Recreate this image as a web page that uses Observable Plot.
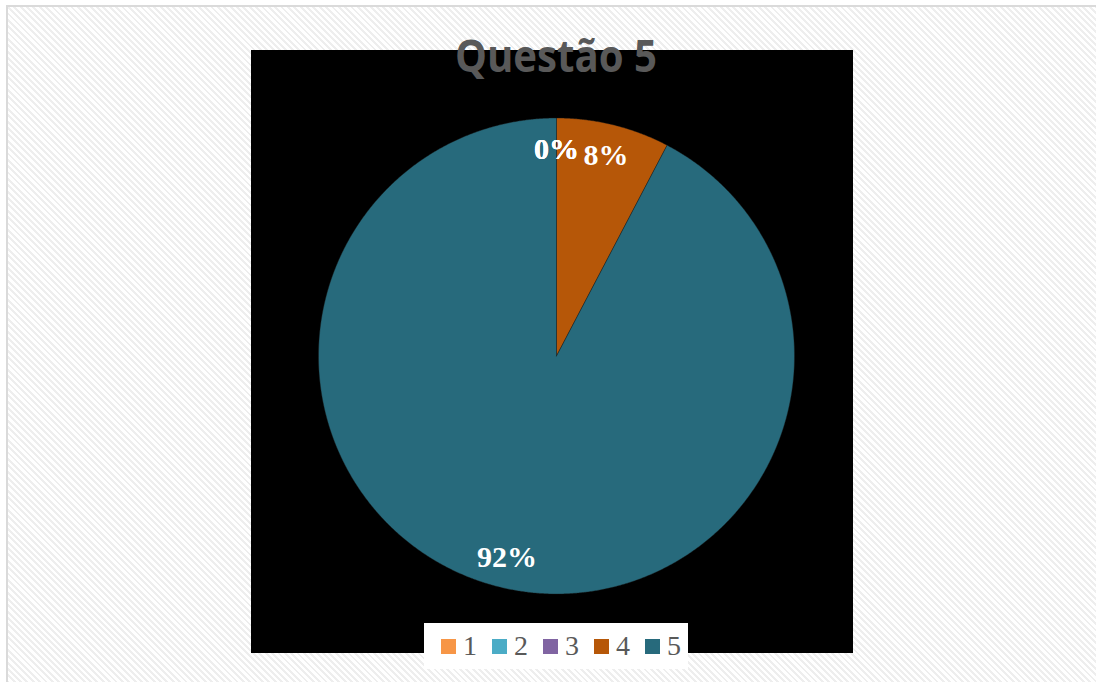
<!DOCTYPE html>
<html>
<head>
<meta charset="utf-8">
<script src="https://cdn.jsdelivr.net/npm/d3@7"></script>
<script src="https://cdn.jsdelivr.net/npm/@observablehq/plot@0.6"></script>
<style>
  html, body { margin: 0; padding: 0; }
  body { width: 1096px; height: 682px; overflow: hidden; position: relative; background: #fff; }
  #page { position: absolute; left: 6px; top: 5px; width: 1100px; height: 690px;
    border: 2px solid #dadada; box-sizing: border-box;
    background: repeating-linear-gradient(45deg, #ffffff 0px, #ffffff 2.5px, #eeeeee 2.5px, #eeeeee 4.5px); }
  #chart { position: absolute; left: 251px; top: 50px; width: 602px; height: 603px; }
  #title { position: absolute; left: 0; top: 0; width: 1096px; height: 100px; pointer-events: none; }
  #legend { position: absolute; left: 424px; top: 623px; width: 264px; height: 46px; background: #fff;
    display: flex; align-items: center; padding-left: 17px; box-sizing: border-box;
    font-family: 'Liberation Serif', serif; font-size: 28px; color: #595959; }
  #legend .item { display: flex; align-items: center; margin-right: 14px; }
  #legend .sw { width: 15px; height: 15px; margin-right: 7px; }
  #legend .lb { width: 15px; line-height: 28px; }
</style>
</head>
<body>
<div id="page"></div>
<div id="chart"></div>
<svg id="title" width="1096" height="100"></svg>
<div id="legend"></div>
<script>
const categories = ["1", "2", "3", "4", "5"];
const counts = [0, 0, 0, 1, 12];
const labels = ["0%", "0%", "0%", "8%", "92%"];
const colors = ["#F79646", "#4BACC6", "#8064A2", "#B65708", "#276A7C"];
const titleText = "Questão 5";

const data = categories.map((c, i) => ({key: c, value: counts[i], label: labels[i]}));
const arcs = d3.pie().sort(null).value(d => d.value)(data);

// polygon points for each slice (unit circle, angle 0 at top, clockwise)
const pts = [];
for (const a of arcs) {
  const span = a.endAngle - a.startAngle;
  const n = Math.max(2, Math.ceil(span / 0.005));
  pts.push({key: a.data.key, x: 0, y: 0});
  for (let k = 0; k <= n; k++) {
    const t = a.startAngle + span * k / n;
    pts.push({key: a.data.key, x: Math.sin(t), y: Math.cos(t)});
  }
  pts.push({key: a.data.key, x: 0, y: 0});
}
const lab = arcs.map(a => {
  const m = (a.startAngle + a.endAngle) / 2;
  return {key: a.data.key, label: a.data.label, x: 0.87 * Math.sin(m), y: 0.87 * Math.cos(m)};
});

const plot = Plot.plot({
  width: 602,
  height: 603,
  marginLeft: 67,
  marginRight: 59,
  marginTop: 67.5,
  marginBottom: 59.5,
  x: {domain: [-1, 1], axis: null},
  y: {domain: [-1, 1], axis: null},
  color: {domain: categories, range: colors},
  style: {background: "#000", overflow: "visible"},
  marks: [
    Plot.line(pts, {x: "x", y: "y", z: "key", fill: "key", stroke: "#1a1a1a", strokeWidth: 0.4, curve: "linear"}),
    Plot.text(lab, {x: "x", y: "y", text: "label", fill: "#fff", fontSize: 30, fontWeight: "bold",
      fontFamily: "'Liberation Serif', serif", textAnchor: "middle", lineAnchor: "middle"})
  ]
});
document.getElementById("chart").appendChild(plot);

// title
const svg = d3.select("#title");
svg.append("text")
  .attr("x", 556).attr("y", 72)
  .attr("text-anchor", "middle")
  .attr("textLength", 202).attr("lengthAdjust", "spacingAndGlyphs")
  .attr("font-family", "'Open Sans', sans-serif").attr("font-weight", 700).attr("font-size", 45)
  .attr("fill", "#595959")
  .text(titleText);

// legend
const leg = d3.select("#legend");
categories.forEach((c, i) => {
  const it = leg.append("div").attr("class", "item");
  it.append("div").attr("class", "sw").style("background", colors[i]);
  it.append("div").attr("class", "lb").text(c);
});
</script>
</body>
</html>
